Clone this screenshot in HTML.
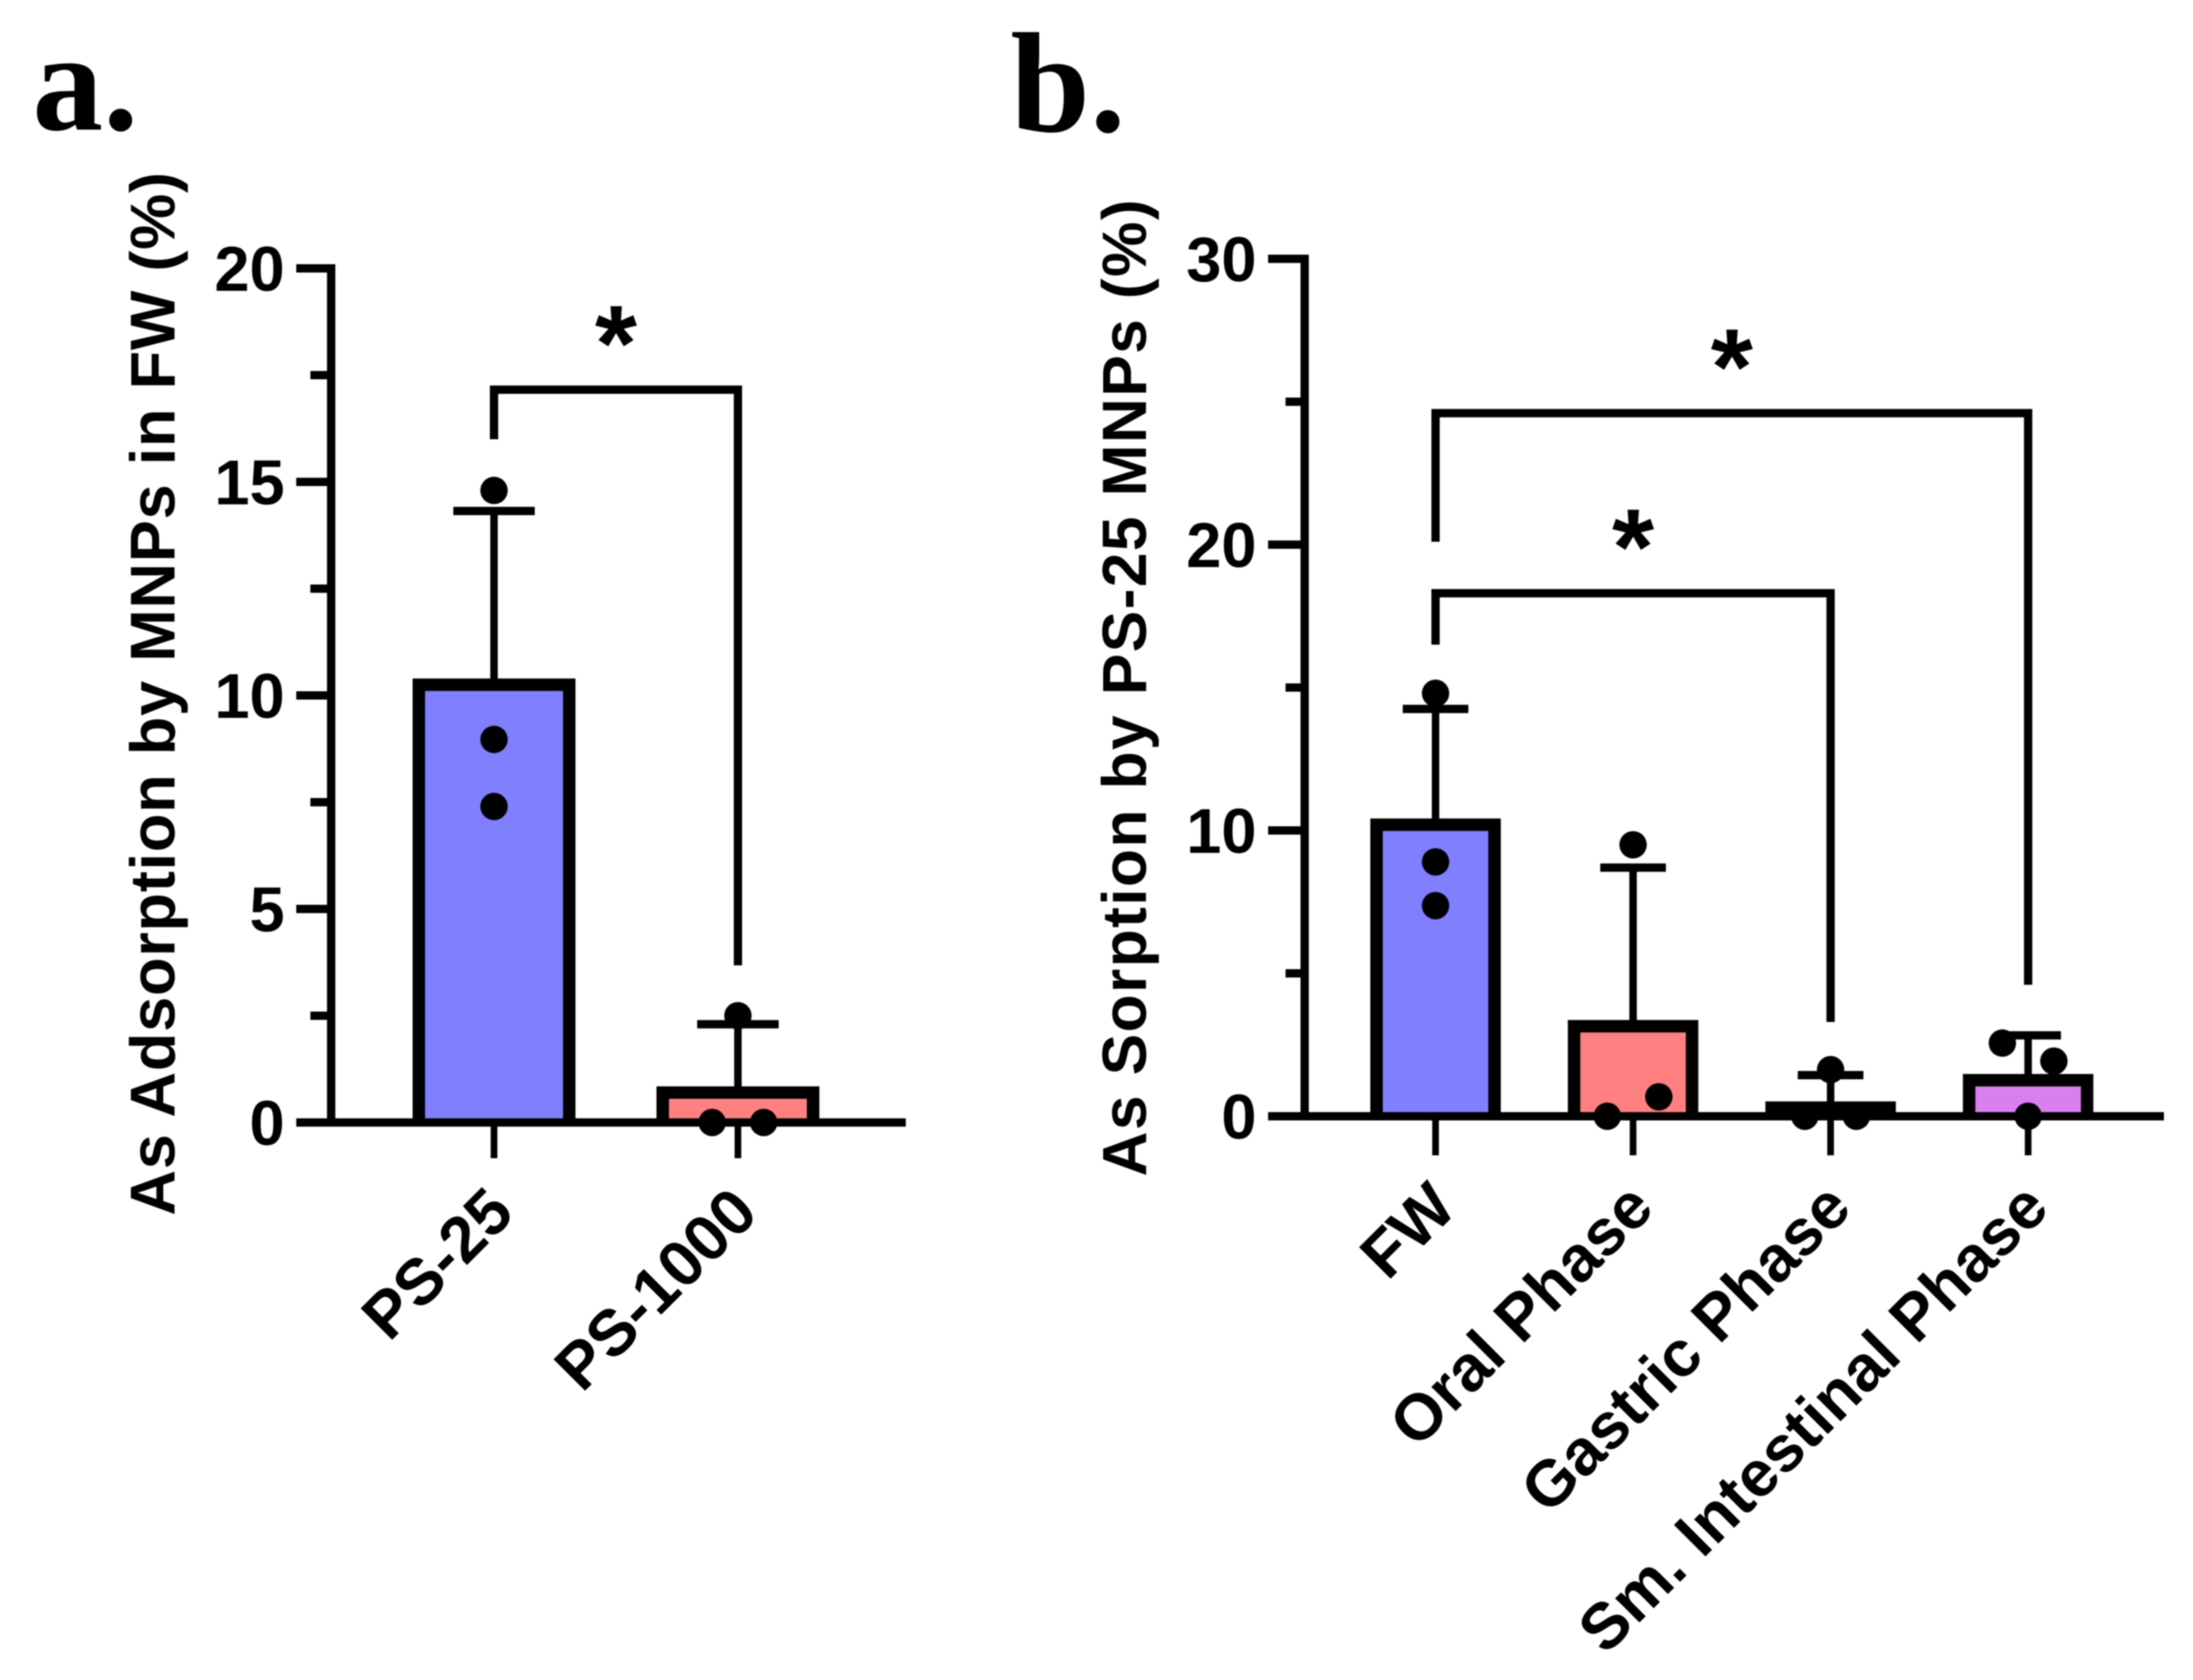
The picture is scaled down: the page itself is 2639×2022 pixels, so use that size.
<!DOCTYPE html>
<html lang="en">
<head>
<meta charset="utf-8">
<title>As adsorption by MNPs</title>
<style>
html,body{margin:0;padding:0;background:#fff;width:2639px;height:2022px;overflow:hidden}
svg{display:block;filter:blur(0.7px)}
text{font-family:"Liberation Sans",sans-serif;font-weight:bold;fill:#000}
.letter{font-family:"Liberation Serif",serif}
</style>
</head>
<body>
<svg id="chart" width="2639" height="2022" viewBox="0 0 2639 2022" xmlns="http://www.w3.org/2000/svg">
  <rect x="0" y="0" width="2639" height="2022" fill="#fff"/>
  <text class="letter" x="39" y="156" font-size="170">a.</text>
  <text class="letter" x="1216" y="158" font-size="172">b.</text>
  <text transform="translate(210 1463) rotate(-90)" font-size="76" textLength="1256" lengthAdjust="spacing">As Adsorption by MNPs in FW (%)</text>
  <text transform="translate(1379 1416) rotate(-90)" font-size="75" textLength="1176" lengthAdjust="spacing">As Sorption by PS-25 MNPs (%)</text>
</svg>
<script>
const panelACategories = ['PS-25', 'PS-1000'];
const panelAMeans = [10.25, 0.7];
const panelAUpperError = [14.32, 2.3];
const panelAPoints = [[14.8, 8.97, 7.4], [2.5, 0, 0]];
const panelASlots = [[0, 0, 0], [0, -1, 1]];
const panelAColors = ['#8080ff', '#ff8080'];
const panelAMajorTicks = [0, 5, 10, 15, 20];
const panelAMinorTicks = [2.5, 7.5, 12.5, 17.5];
const panelABracketFrom = [0];
const panelABracketTo = [1];
const panelABracketLevel = [17.16];
const panelABracketFootFrom = [16.0];
const panelABracketFootTo = [3.68];

const panelBCategories = ['FW', 'Oral Phase', 'Gastric Phase', 'Sm. Intestinal Phase'];
const panelBMeans = [10.2, 3.15, 0.3, 1.26];
const panelBUpperError = [14.25, 8.7, 1.44, 2.83];
const panelBPoints = [[14.8, 8.9, 7.37], [9.5, 0.68, 0], [1.63, 0, 0], [2.56, 1.93, 0]];
const panelBSlots = [[0, 0, 0], [0, 1, -1], [0, -1, 1], [-1, 1, 0]];
const panelBColors = ['#8080ff', '#ff8080', '#ff8080', '#da80ee'];
const panelBMajorTicks = [0, 10, 20, 30];
const panelBMinorTicks = [5, 15, 25];
const panelBBracketFrom = [0, 0];
const panelBBracketTo = [3, 2];
const panelBBracketLevel = [24.6, 18.3];
const panelBBracketFootFrom = [20.1, 16.5];
const panelBBracketFootTo = [4.6, 3.3];

const svg = document.getElementById('chart');
const NS = 'http://www.w3.org/2000/svg';

function mk(tag, attrs) {
  const el = document.createElementNS(NS, tag);
  for (const k in attrs) el.setAttribute(k, attrs[k]);
  svg.appendChild(el);
  return el;
}

function drawPanel(p) {
  const y = v => p.y0 - v * p.unit;
  const x = i => p.x0 + i * p.step;
  const prefix = p.prefix;

  p.means.forEach((m, i) => {
    const top = y(m);
    const left = x(i) - p.barW / 2;
    const right = x(i) + p.barW / 2;
    const bar = mk('rect', {x: left, y: top, width: p.barW, height: p.y0 - top, fill: p.colors[i]});
    
    

    const outline = mk('path', {d: 'M' + left + ' ' + p.y0 + 'V' + top + 'H' + right + 'V' + p.y0, fill: 'none', stroke: '#000', 'stroke-width': 15});
    
    

    const stem = mk('line', {x1: x(i), x2: x(i), y1: top, y2: y(p.upper[i]), stroke: '#000', 'stroke-width': 9});
    
    

    const cap = mk('line', {x1: x(i) - p.capW / 2, x2: x(i) + p.capW / 2, y1: y(p.upper[i]), y2: y(p.upper[i]), stroke: '#000', 'stroke-width': 10});
    
    
  });

  const yAxis = mk('line', {x1: p.axisX, x2: p.axisX, y1: y(p.major[p.major.length - 1]) - 5, y2: p.y0, stroke: '#000', 'stroke-width': 10});
  
  

  const xAxis = mk('line', {x1: p.axisX - p.majorLen, x2: p.axisEnd, y1: p.y0, y2: p.y0, stroke: '#000', 'stroke-width': 10});
  
  

  p.major.forEach(v => {
    const t = mk('line', {x1: p.axisX - p.majorLen, x2: p.axisX, y1: y(v), y2: y(v), stroke: '#000', 'stroke-width': 10});
    
    

    const l = mk('text', {x: p.axisX - p.majorLen - 14, y: y(v) + 27, 'font-size': 76, 'text-anchor': 'end'});
    l.textContent = String(v);
    
    
  });

  p.minor.forEach(v => {
    const t = mk('line', {x1: p.axisX - p.minorLen, x2: p.axisX, y1: y(v), y2: y(v), stroke: '#000', 'stroke-width': 10});
    
    
  });

  p.categories.forEach((c, i) => {
    const t = mk('line', {x1: x(i), x2: x(i), y1: p.y0, y2: p.y0 + p.tickLen, stroke: '#000', 'stroke-width': 8});
    
    

    const l = mk('text', {'font-size': 78, 'text-anchor': 'end', transform: 'translate(' + (x(i) + p.labelDx) + ' ' + p.labelY + ') rotate(-45)'});
    l.textContent = c;
    
    
  });

  p.points.forEach((vals, i) => {
    vals.forEach((v, j) => {
      const d = mk('circle', {cx: x(i) + p.slots[i][j] * 31, cy: y(v), r: 16.5, fill: '#000'});
      
      
    });
  });

  p.bFrom.forEach((from, k) => {
    const level = y(p.bLevel[k]);
    const path = mk('path', {d: 'M' + x(from) + ' ' + y(p.bFootFrom[k]) + 'V' + level + 'H' + x(p.bTo[k]) + 'V' + y(p.bFootTo[k]), fill: 'none', stroke: '#000', 'stroke-width': 10});
    
    

    const star = mk('text', {x: (x(from) + x(p.bTo[k])) / 2, y: level - 11, 'font-size': 130, 'text-anchor': 'middle'});
    star.textContent = '*';
    
    
  });
}

drawPanel({
  prefix: 'panel-a', y0: 1351, unit: 51.4, x0: 594.5, step: 293.5, barW: 181, capW: 98,
  axisX: 398.5, axisEnd: 1090, majorLen: 42, minorLen: 25, tickLen: 43, labelDx: 27, labelY: 1463,
  categories: panelACategories, means: panelAMeans, upper: panelAUpperError,
  points: panelAPoints, slots: panelASlots, colors: panelAColors,
  major: panelAMajorTicks, minor: panelAMinorTicks,
  bFrom: panelABracketFrom, bTo: panelABracketTo, bLevel: panelABracketLevel,
  bFootFrom: panelABracketFootFrom, bFootTo: panelABracketFootTo
});

drawPanel({
  prefix: 'panel-b', y0: 1343.5, unit: 34.4, x0: 1727.5, step: 237.7, barW: 142, capW: 79,
  axisX: 1570, axisEnd: 2604, majorLen: 44, minorLen: 23, tickLen: 47, labelDx: 28, labelY: 1457,
  categories: panelBCategories, means: panelBMeans, upper: panelBUpperError,
  points: panelBPoints, slots: panelBSlots, colors: panelBColors,
  major: panelBMajorTicks, minor: panelBMinorTicks,
  bFrom: panelBBracketFrom, bTo: panelBBracketTo, bLevel: panelBBracketLevel,
  bFootFrom: panelBBracketFootFrom, bFootTo: panelBBracketFootTo
});
</script>
</body>
</html>
